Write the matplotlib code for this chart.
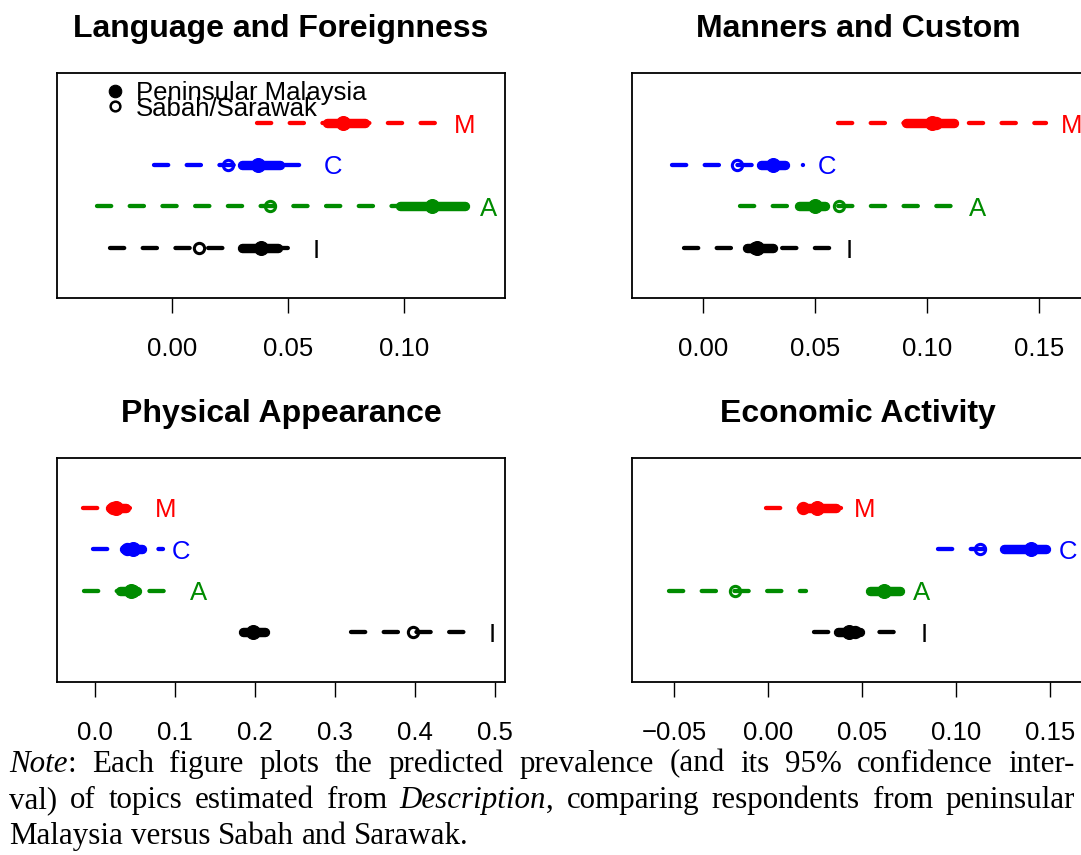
import matplotlib.pyplot as plt
from matplotlib.transforms import IdentityTransform

plt.rcParams['font.family'] = ['Liberation Sans', 'DejaVu Sans']

# topics, top row first
topics = ["M", "C", "A", "I"]
topic_colors = ["#FF0000", "#0000FF", "#008B00", "#000000"]
rows = [4, 3, 2, 1]

titles = ["Language and Foreignness", "Manners and Custom",
          "Physical Appearance", "Economic Activity"]

# predicted prevalence with 95% CI: peninsular (pen) vs Sabah/Sarawak (ss)
lang_pen = [0.0737, 0.0371, 0.1118, 0.0382]
lang_pen_lo = [0.0666, 0.0299, 0.0982, 0.0299]
lang_pen_hi = [0.0830, 0.0464, 0.1260, 0.0457]
lang_ss = [0.0740, 0.0241, 0.0421, 0.0115]
lang_ss_lo = [0.0365, -0.0080, -0.0325, -0.0267]
lang_ss_hi = [0.1150, 0.0590, 0.1180, 0.0540]

mann_pen = [0.1023, 0.0311, 0.0500, 0.0239]
mann_pen_lo = [0.0903, 0.0257, 0.0425, 0.0194]
mann_pen_hi = [0.1120, 0.0365, 0.0545, 0.0313]
mann_ss = [0.1040, 0.0152, 0.0605, 0.0232]
mann_ss_lo = [0.0599, -0.0140, 0.0164, -0.0085]
mann_ss_hi = [0.1530, 0.0445, 0.1120, 0.0570]

phys_pen = [0.026, 0.047, 0.045, 0.198]
phys_pen_lo = [0.019, 0.036, 0.031, 0.185]
phys_pen_hi = [0.039, 0.059, 0.053, 0.212]
phys_ss = [0.023, 0.040, 0.047, 0.398]
phys_ss_lo = [-0.0156, -0.0019, -0.0138, 0.3206]
phys_ss_hi = [0.0640, 0.0854, 0.1078, 0.4812]

econ_pen = [0.0260, 0.1398, 0.0619, 0.0430]
econ_pen_lo = [0.0180, 0.1254, 0.0544, 0.0370]
econ_pen_hi = [0.0360, 0.1478, 0.0700, 0.0490]
econ_ss = [0.0186, 0.1128, -0.0175, 0.0460]
econ_ss_lo = [-0.0014, 0.0902, -0.0527, 0.0243]
econ_ss_hi = [0.0386, 0.1354, 0.0200, 0.0740]

xticks = [[0.00, 0.05, 0.10], [0.00, 0.05, 0.10, 0.15],
          [0.0, 0.1, 0.2, 0.3, 0.4, 0.5], [-0.05, 0.00, 0.05, 0.10, 0.15]]
xticklabels = [["0.00", "0.05", "0.10"], ["0.00", "0.05", "0.10", "0.15"],
               ["0.0", "0.1", "0.2", "0.3", "0.4", "0.5"],
               ["\u22120.05", "0.00", "0.05", "0.10", "0.15"]]
xlims = [(-0.0497, 0.1434), (-0.0319, 0.1700), (-0.0475, 0.5125), (-0.0725, 0.1681)]

legend_labels = ["Peninsular Malaysia", "Sabah/Sarawak"]

note_lines = [
    "*Note*: Each figure plots the predicted prevalence (and its 95% confidence inter-",
    "val) of topics estimated from *Description*, comparing respondents from peninsular",
    "Malaysia versus Sabah and Sarawak.",
]

W, H = 1081, 855
fig = plt.figure(figsize=(W / 100, H / 100), dpi=100)


def add_px_axes(left, top, right, bottom):
    return fig.add_axes([left / W, 1 - bottom / H, (right - left) / W, (bottom - top) / H])


boxes = [(57, 73, 505, 298), (632, 73, 1084, 298),
         (57, 458, 505, 682), (632, 458, 1084, 682)]
panels = [
    (lang_pen, lang_pen_lo, lang_pen_hi, lang_ss, lang_ss_lo, lang_ss_hi),
    (mann_pen, mann_pen_lo, mann_pen_hi, mann_ss, mann_ss_lo, mann_ss_hi),
    (phys_pen, phys_pen_lo, phys_pen_hi, phys_ss, phys_ss_lo, phys_ss_hi),
    (econ_pen, econ_pen_lo, econ_pen_hi, econ_ss, econ_ss_lo, econ_ss_hi),
]

axes = []
for k, (box, data) in enumerate(zip(boxes, panels)):
    ax = add_px_axes(*box)
    axes.append(ax)
    pen, pen_lo, pen_hi, ss, ss_lo, ss_hi = data
    for i, t in enumerate(topics):
        y = rows[i]
        c = topic_colors[i]
        ax.plot([ss_lo[i], ss_hi[i]], [y, y], color=c, lw=3.1, dashes=(3.3, 4.3),
                dash_capstyle='round', zorder=2)
        ax.plot([pen_lo[i], pen_hi[i]], [y, y], color=c, lw=6.8,
                solid_capstyle='round', zorder=3)
        ax.plot(pen[i], y, 'o', color=c, ms=10, mew=0.8, zorder=4)
        ax.plot(ss[i], y, 'o', mfc='none', mec=c, ms=7.4, mew=2.2, zorder=5)
        ax.annotate(t, (max(pen_hi[i], ss_hi[i]) + 0.004, y), xytext=(4, 0),
                    textcoords='offset points', ha='left', va='center_baseline',
                    color=c, fontsize=18.5)
    ax.set_xlim(*xlims[k])
    ax.set_ylim(-0.2, 5.2)
    ax.set_yticks([])
    ax.set_xticks(xticks[k])
    ax.set_xticklabels(xticklabels[k])
    ax.tick_params(axis='x', direction='out', length=11, width=1, pad=17.3, labelsize=18.5)
    for s in ax.spines.values():
        s.set_linewidth(1.3)
    ax.set_title(titles[k], fontsize=23, fontweight='bold', pad=26)

# legend in the first panel
ax = axes[0]
ax.plot(0.1295, 0.919, 'o', color='black', ms=9, mew=0.8, transform=ax.transAxes, clip_on=False)
ax.plot(0.1295, 0.852, 'o', mfc='none', mec='black', ms=7, mew=1.8,
        transform=ax.transAxes, clip_on=False)
ax.text(0.1763, 0.880, legend_labels[0], transform=ax.transAxes, fontsize=18.5, va='baseline')
ax.text(0.1763, 0.811, legend_labels[1], transform=ax.transAxes, fontsize=18.5, va='baseline')

# caption, justified like the typeset page
renderer = fig.canvas.get_renderer()
x_left, x_right = 9, 1075
baselines = [771.7, 808, 843.5]
note_font = dict(family='Liberation Serif', size=22.3)

probe_a = fig.text(0, 0, "x x", **note_font)
probe_b = fig.text(0, 0, "xx", **note_font)
space = probe_a.get_window_extent(renderer).width - probe_b.get_window_extent(renderer).width
probe_a.remove()
probe_b.remove()

for li, line in enumerate(note_lines):
    items = []
    for word in line.split(" "):
        parts = word.split("*")
        arts, widths = [], []
        for j, s in enumerate(parts):
            if not s:
                continue
            a = fig.text(0, 0, s, fontstyle='italic' if j % 2 else 'normal',
                         transform=IdentityTransform(), va='baseline', **note_font)
            arts.append(a)
            widths.append(a.get_window_extent(renderer).width)
        items.append((arts, widths))
    total = sum(sum(w) for _, w in items)
    if li < len(note_lines) - 1:
        gap = (x_right - x_left - total) / (len(items) - 1)
    else:
        gap = space
    x = x_left
    for arts, widths in items:
        for a, w in zip(arts, widths):
            a.set_position((x, H - baselines[li]))
            x += w
        x += gap

fig.savefig("out.png", dpi=100)
